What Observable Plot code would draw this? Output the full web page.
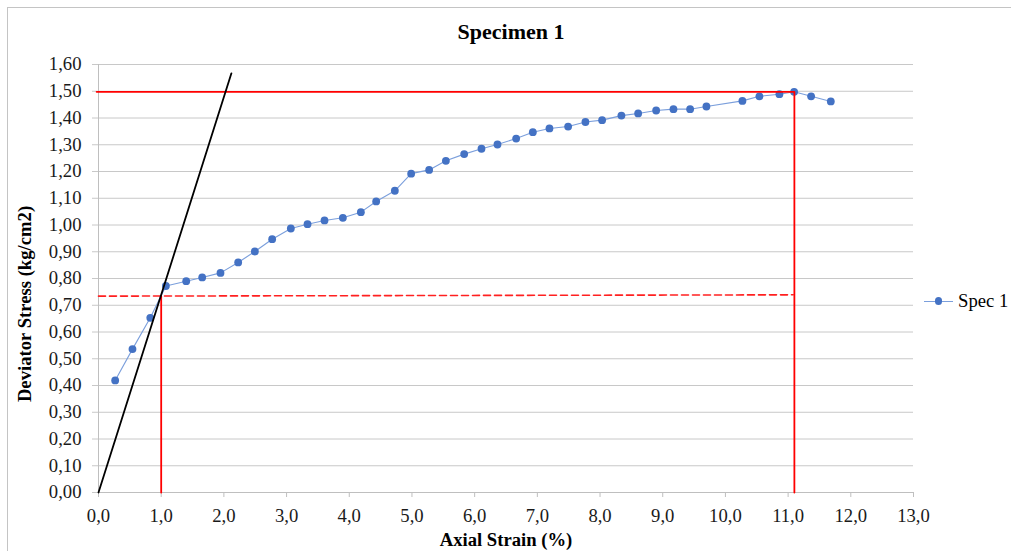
<!DOCTYPE html>
<html>
<head>
<meta charset="utf-8">
<script src="https://cdn.jsdelivr.net/npm/d3@7"></script>
<script src="https://cdn.jsdelivr.net/npm/@observablehq/plot@0.6"></script>
<style>
  html, body { margin: 0; padding: 0; background: #fff; }
  #wrap { position: relative; width: 1011px; height: 551px; overflow: hidden; font-family: "Liberation Serif", "Times New Roman", serif; color: #000; }
  #border { position: absolute; left: 7px; top: 7px; width: 1100px; height: 700px; border-left: 1px solid #c4c4c4; border-top: 1px solid #c4c4c4; }
  #chart { position: absolute; left: 0; top: 0; }
  .lbl { position: absolute; white-space: nowrap; font-weight: bold; }
  #title { left: 511px; top: 32px; transform: translate(-50%, -50%); font-size: 22px; }
  #xlabel { left: 506px; top: 540px; transform: translate(-50%, -50%); font-size: 18.67px; }
  #ylabel { left: 24.5px; top: 303.5px; transform: translate(-50%, -50%) rotate(-90deg); font-size: 18.67px; }
  #legend { position: absolute; left: 924px; top: 290px; height: 22px; display: flex; align-items: center; font-size: 18.67px; }
  #legend .sw { position: relative; width: 29px; height: 22px; margin-right: 5px; }
  #legend .sw .ln { position: absolute; left: 0; right: 0; top: 10.5px; border-top: 1px solid #7b9fdc; }
  #legend .sw .pt { position: absolute; left: 10.7px; top: 7.3px; width: 7.6px; height: 7.6px; border-radius: 50%; background: #4472c4; }
</style>
</head>
<body>
<div id="wrap">
  <div id="border"></div>
  <div id="chart"></div>
  <div id="title" class="lbl">Specimen 1</div>
  <div id="xlabel" class="lbl">Axial Strain (%)</div>
  <div id="ylabel" class="lbl">Deviator Stress (kg/cm2)</div>
  <div id="legend"><div class="sw"><div class="ln"></div><div class="pt"></div></div><span id="legtext"></span></div>
</div>
<script>
// ---- data ----
const seriesName = "Spec 1";
const strain = [0.266, 0.542, 0.826, 1.075, 1.399, 1.654, 1.946, 2.228, 2.494, 2.770,
  3.068, 3.334, 3.605, 3.898, 4.185, 4.429, 4.727, 4.987, 5.274, 5.541,
  5.833, 6.109, 6.364, 6.662, 6.928, 7.193, 7.491, 7.767, 8.033, 8.341,
  8.608, 8.895, 9.171, 9.437, 9.697, 10.271, 10.542, 10.861, 11.096, 11.367, 11.681];
const stress = [0.419, 0.536, 0.653, 0.772, 0.790, 0.804, 0.821, 0.860, 0.901, 0.947,
  0.987, 1.003, 1.017, 1.027, 1.048, 1.088, 1.128, 1.192, 1.206, 1.240,
  1.265, 1.285, 1.301, 1.323, 1.347, 1.361, 1.368, 1.385, 1.392, 1.409,
  1.417, 1.428, 1.433, 1.433, 1.443, 1.464, 1.481, 1.489, 1.498, 1.481, 1.462];

// annotation lines
const tangentX = [0, 2.12];          // black initial-tangent line
const tangentY = [0, 1.567];
const peakLineX = [-0.03, 11.1, 11.1]; // red: horizontal at peak, then down
const peakLineY = [1.498, 1.498, 0];
const halfLineX = [1.0, 1.0];        // red vertical at 1.0 %
const halfLineY = [0, 0.735];
const dashX = [0, 11.08];            // red dashed
const dashY = [0.734, 0.739];

const xTicks = [0,1,2,3,4,5,6,7,8,9,10,11,12,13];
const yTicks = [0,0.1,0.2,0.3,0.4,0.5,0.6,0.7,0.8,0.9,1.0,1.1,1.2,1.3,1.4,1.5,1.6];

// ---- build tables ----
const pts = strain.map((x, i) => ({x, y: stress[i]}));
const zip = (xs, ys) => xs.map((x, i) => ({x, y: ys[i]}));

const fmtY = d => d3.format(".2f")(d).replace(".", ",");
const fmtX = d => d3.format(".1f")(d).replace(".", ",");

document.getElementById("legtext").textContent = seriesName;

const chart = Plot.plot({
  width: 1011,
  height: 551,
  marginLeft: 98,
  marginRight: 98,
  marginTop: 64,
  marginBottom: 59,
  style: {fontFamily: "'Liberation Serif', 'Times New Roman', serif", fontSize: "18.67px", background: "transparent", overflow: "visible"},
  x: {domain: [0, 13]},
  y: {domain: [0, 1.6]},
  marks: [
    Plot.gridY(yTicks, {stroke: "#c8c8c8", strokeOpacity: 1, strokeWidth: 1}),
    Plot.axisY({ticks: yTicks, tickSize: 6, tickPadding: 11, tickFormat: fmtY, label: null,
      stroke: "#c8c8c8", strokeOpacity: 1, fill: "#1a1a1a", fontSize: 18.67}),
    Plot.axisX({ticks: xTicks, tickSize: 5, tickPadding: 11, tickFormat: fmtX, label: null,
      stroke: "#bfbfbf", strokeOpacity: 1, fill: "#1a1a1a", fontSize: 18.67}),
    Plot.ruleY([0], {stroke: "#bfbfbf", strokeWidth: 1}),
    Plot.ruleX([0], {y1: 0, y2: 1.6, stroke: "#bfbfbf", strokeWidth: 1}),
    Plot.line(pts, {x: "x", y: "y", stroke: "#7b9fdc", strokeWidth: 1.1}),
    Plot.dot(pts, {x: "x", y: "y", r: 3.9, fill: "#4472c4", stroke: "none"}),
    Plot.line(zip(dashX, dashY), {x: "x", y: "y", stroke: "#ff2020", strokeWidth: 1.6, strokeDasharray: "7,4"}),
    Plot.line(zip(halfLineX, halfLineY), {x: "x", y: "y", stroke: "#ff0000", strokeWidth: 1.8}),
    Plot.line(zip(peakLineX, peakLineY), {x: "x", y: "y", stroke: "#ff0000", strokeWidth: 1.8}),
    Plot.line(zip(tangentX, tangentY), {x: "x", y: "y", stroke: "#000", strokeWidth: 1.8})
  ]
});
document.getElementById("chart").appendChild(chart);
</script>
</body>
</html>
